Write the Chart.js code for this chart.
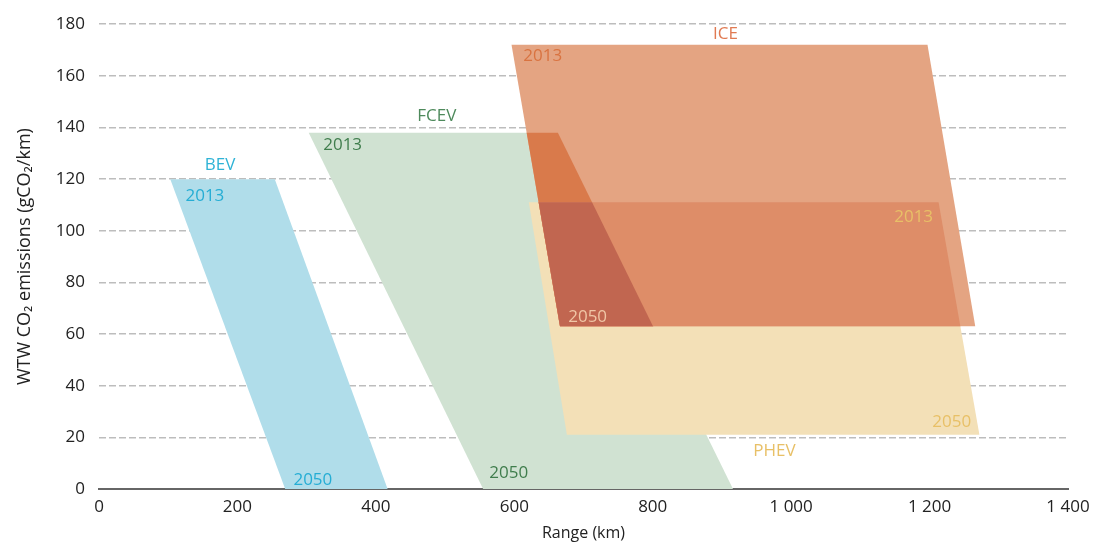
<!DOCTYPE html>
<html>
<head>
<meta charset="utf-8">
<script src="https://cdn.jsdelivr.net/npm/chart.js@4.4.1/dist/chart.umd.min.js"></script>
<style>
  html, body { margin: 0; padding: 0; background: #fff; }
</style>
</head>
<body>
<canvas id="chart" width="1101" height="551"></canvas>
<script>
const FONT = '"Open Sans", sans-serif';

// corners of each zone: range (km) and WTW CO2 (g/km), clockwise from top-left
const bevRange = [103, 254, 417, 269];
const bevCo2 = [120, 120, 0, 0];
const fcevRange = [303, 663, 916, 555];
const fcevCo2 = [138, 138, 0, 0];
const phevRange = [621, 1213, 1272, 676];
const phevCo2 = [111, 111, 21, 21];
const iceRange = [596, 1197, 1266, 666];
const iceCo2 = [172, 172, 63, 63];

const xTickValues = [0, 200, 400, 600, 800, 1000, 1200, 1400];
const xTickLabels = ["0", "200", "400", "600", "800", "1 000", "1 200", "1 400"];
const yTickValues = [0, 20, 40, 60, 80, 100, 120, 140, 160, 180];

// texts written inside the plot
const noteTexts = ["ICE", "2013", "FCEV", "2013", "BEV", "2013", "2050", "2050", "2050", "2013", "2050", "PHEV"];
const noteRange = [905, 641, 488, 352, 175, 153, 309, 592, 706, 1177, 1232, 976];
const noteCo2 = [176, 167.5, 144.5, 133, 125.5, 113.5, 3.5, 6.3, 66.5, 105.2, 25.8, 14.5];
const noteColors = ["#E07A52", "#D97340", "#4E8A5C", "#3F7D4C", "#2FB3D6", "#25ADD4", "#25ADD4", "#3F7D4C", "#F0C6A6", "#E8C067", "#E8C067", "#E8C067"];

function corners(xs, ys) {
  const pts = xs.map((x, i) => ({ x: x, y: ys[i] }));
  pts.push(pts[0]);
  return pts;
}

function zone(label, xs, ys, color, order) {
  return {
    label: label,
    data: corners(xs, ys),
    backgroundColor: color,
    borderColor: "rgba(0,0,0,0)",
    borderWidth: 0,
    pointRadius: 0,
    fill: "shape",
    order: order,
  };
}

function tracePolygon(ctx, chart, xs, ys) {
  const sx = chart.scales.x;
  const sy = chart.scales.y;
  ctx.beginPath();
  xs.forEach((v, i) => {
    const px = sx.getPixelForValue(v);
    const py = sy.getPixelForValue(ys[i]);
    if (i === 0) ctx.moveTo(px, py);
    else ctx.lineTo(px, py);
  });
  ctx.closePath();
}

// fill the common part of several zones with its own colour
function fillOverlap(chart, polys, color) {
  const ctx = chart.ctx;
  ctx.save();
  polys.slice(0, -1).forEach((p) => {
    tracePolygon(ctx, chart, p[0], p[1]);
    ctx.clip();
  });
  const last = polys[polys.length - 1];
  tracePolygon(ctx, chart, last[0], last[1]);
  ctx.fillStyle = color;
  ctx.fill();
  ctx.restore();
}

const overlapPlugin = {
  id: "overlaps",
  afterDatasetsDraw(chart) {
    fillOverlap(chart, [[fcevRange, fcevCo2], [iceRange, iceCo2]], "#D97A4B");
  },
  afterDraw(chart) {
    fillOverlap(chart, [[phevRange, phevCo2], [iceRange, iceCo2]], "#DE8D68");
    fillOverlap(chart, [[fcevRange, fcevCo2], [phevRange, phevCo2], [iceRange, iceCo2]], "#C16650");

    const ctx = chart.ctx;
    ctx.save();
    ctx.font = "17px " + FONT;
    ctx.textAlign = "center";
    ctx.textBaseline = "middle";
    noteTexts.forEach((t, i) => {
      ctx.fillStyle = noteColors[i];
      ctx.fillText(t, chart.scales.x.getPixelForValue(noteRange[i]), chart.scales.y.getPixelForValue(noteCo2[i]));
    });
    ctx.restore();
  },
};

new Chart(document.getElementById("chart"), {
  type: "line",
  data: {
    datasets: [
      zone("BEV", bevRange, bevCo2, "#B0DDEA", 4),
      zone("FCEV", fcevRange, fcevCo2, "#D0E2D2", 3),
      zone("PHEV", phevRange, phevCo2, "#F3E0B7", 2),
      zone("ICE", iceRange, iceCo2, "#E4A482", 1),
    ],
  },
  options: {
    responsive: false,
    animation: false,
    layout: { padding: { left: 10, right: 33, top: 21, bottom: 4 } },
    plugins: {
      legend: { display: false },
      tooltip: { enabled: false },
    },
    scales: {
      x: {
        type: "linear",
        min: 0,
        max: 1400,
        z: 1,
        afterBuildTicks: (s) => {
          s.ticks = xTickValues.map((v) => ({ value: v }));
        },
        afterFit: (s) => {
          s.height = 58;
        },
        grid: { display: false, drawTicks: false },
        border: { display: true, color: "#666666", width: 2 },
        ticks: {
          padding: 8,
          color: "#222222",
          font: { family: FONT, size: 17 },
          maxRotation: 0,
          callback: (v, i) => xTickLabels[i],
        },
        title: {
          display: true,
          text: "Range (km)",
          color: "#222222",
          font: { family: FONT, size: 16 },
          padding: { top: 6 },
        },
      },
      y: {
        min: 0,
        max: 180,
        z: 1,
        afterBuildTicks: (s) => {
          s.ticks = yTickValues.map((v) => ({ value: v }));
        },
        afterFit: (s) => {
          s.width = 89;
        },
        grid: {
          color: (c) => (c.tick && c.tick.value === 0 ? "rgba(0,0,0,0)" : "#bdbdbd"),
          lineWidth: 1.5,
          drawTicks: false,
        },
        border: { display: false, dash: [7, 3] },
        ticks: {
          padding: 14,
          color: "#222222",
          font: { family: FONT, size: 17 },
        },
        title: {
          display: true,
          text: "WTW CO₂ emissions (gCO₂/km)",
          color: "#222222",
          font: { family: FONT, size: 18 },
          padding: { bottom: 1 },
        },
      },
    },
  },
  plugins: [overlapPlugin],
});
</script>
</body>
</html>
